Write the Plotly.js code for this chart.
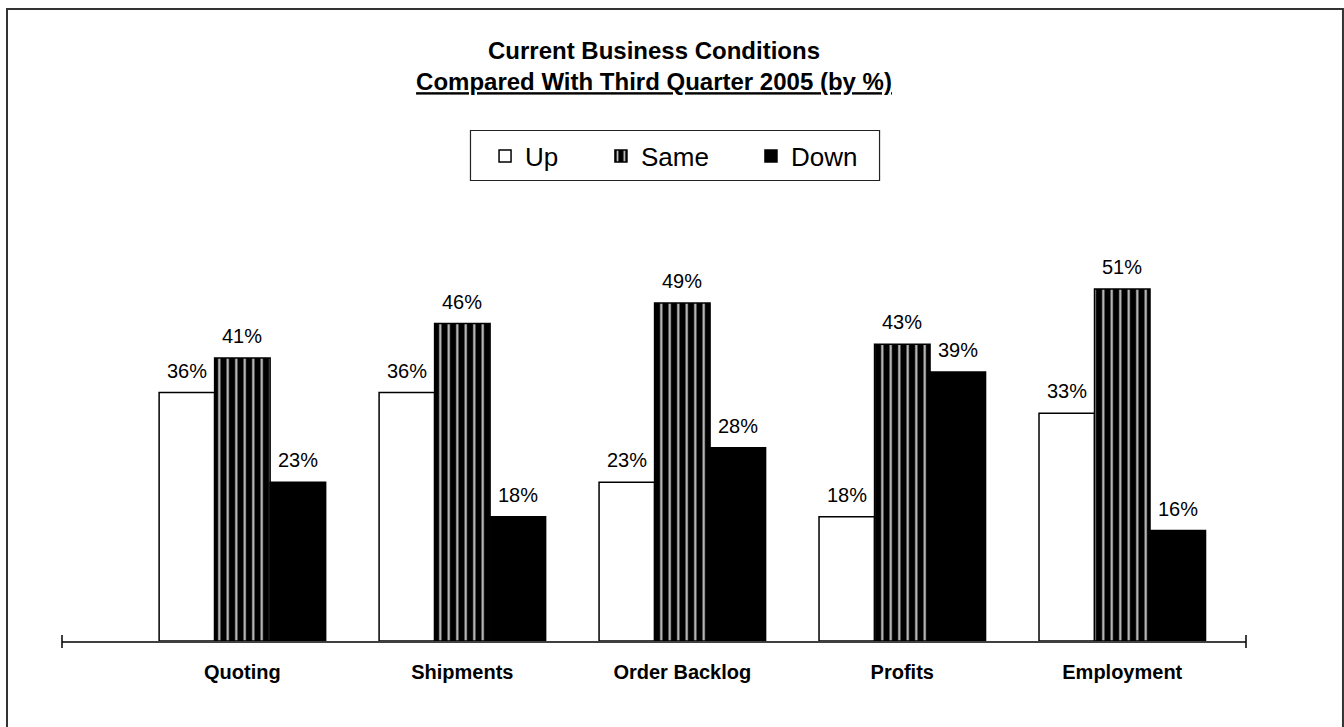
<!DOCTYPE html>
<html>
<head>
<meta charset="utf-8">
<script src="https://cdn.plot.ly/plotly-3.0.1.min.js"></script>
<style>
  html, body { margin: 0; padding: 0; background: #fff; }
  #chart { width: 1344px; height: 727px; }
</style>
</head>
<body>
<div id="chart"></div>
<script>
const categories = ['Quoting', 'Shipments', 'Order Backlog', 'Profits', 'Employment'];
const seriesNames = ['Up', 'Same', 'Down'];
const upValues = [36, 36, 23, 18, 33];
const sameValues = [41, 46, 49, 43, 51];
const downValues = [23, 18, 28, 39, 16];
const allValues = [upValues, sameValues, downValues];

const FONT = 'Liberation Sans, Arial, Helvetica, sans-serif';
const bargap = 0.243;
const barW = (1 - bargap) / 3;

const markers = [
  { color: '#ffffff', line: { color: '#000000', width: 1.5 } },
  { color: '#000000', line: { color: '#000000', width: 1.5 },
    pattern: { shape: '|', fgcolor: '#c8c8c8', bgcolor: '#000000', size: 8.5, solidity: 0.25, fillmode: 'replace' } },
  { color: '#000000', line: { color: '#000000', width: 1.5 } }
];

const legendIds = ['legend', 'legend2', 'legend3'];
const traces = seriesNames.map((name, i) => ({
  type: 'bar',
  name: name,
  x: categories,
  y: allValues[i],
  marker: markers[i],
  legend: legendIds[i],
  showlegend: true,
  hoverinfo: 'x+y+name'
}));

const annotations = [];
allValues.forEach((vals, i) => {
  vals.forEach((v, j) => {
    annotations.push({
      xref: 'x', yref: 'y',
      x: j + (i - 1) * barW,
      y: v,
      text: v + '%',
      showarrow: false,
      xanchor: 'center', yanchor: 'bottom',
      yshift: 9,
      font: { family: FONT, size: 20, color: '#000' }
    });
  });
});

const legendBase = { orientation: 'h', xref: 'paper', yref: 'paper', xanchor: 'left', yanchor: 'middle',
  y: 1.1715, bgcolor: 'rgba(0,0,0,0)', borderwidth: 0, visible: true,
  font: { family: FONT, size: 26, color: '#000' } };

const layout = {
  width: 1344, height: 727,
  showlegend: true,
  margin: { l: 62, r: 98, t: 227, b: 86 },
  paper_bgcolor: '#ffffff', plot_bgcolor: '#ffffff',
  barmode: 'group', bargap: bargap, bargroupgap: 0,
  title: {
    text: '<b>Current Business Conditions</b><br><b><u>Compared With Third Quarter 2005 (by %)</u></b>',
    font: { family: FONT, size: 24, color: '#000' },
    xref: 'paper', x: 0.5, xanchor: 'center',
    yref: 'container', y: 1 - 59 / 727, yanchor: 'top'
  },
  xaxis: {
    type: 'category',
    range: [-0.82, 4.5625],
    showgrid: false, zeroline: false,
    showline: true, linecolor: '#404040', linewidth: 1.5,
    ticks: '', ticklabelstandoff: 12,
    tickfont: { family: FONT, size: 20, color: '#000', weight: 'bold' },
    fixedrange: true
  },
  yaxis: {
    range: [0, 60],
    showgrid: false, zeroline: false, showline: false,
    showticklabels: false, ticks: '', fixedrange: true
  },
  legend: Object.assign({}, legendBase, { x: 0.3573 }),
  legend2: Object.assign({}, legendBase, { x: 0.4552 }),
  legend3: Object.assign({}, legendBase, { x: 0.5819 }),
  annotations: annotations,
  shapes: [
    { type: 'rect', xref: 'paper', yref: 'paper', x0: -0.04645, x1: 1.0819, y0: -0.215, y1: 1.5266,
      line: { color: '#333333', width: 2 }, fillcolor: 'rgba(0,0,0,0)', layer: 'below' },
    { type: 'rect', xref: 'paper', yref: 'paper', x0: 0.345, x1: 0.6905, y0: 1.1123, y1: 1.2331,
      line: { color: '#222222', width: 1.2 }, fillcolor: 'rgba(0,0,0,0)', layer: 'below' },
    { type: 'line', xref: 'paper', yref: 'paper', x0: 0, x1: 0, y0: -0.0169, y1: 0.0145,
      line: { color: '#000000', width: 1.5 } },
    { type: 'line', xref: 'paper', yref: 'paper', x0: 1, x1: 1, y0: -0.0169, y1: 0.0145,
      line: { color: '#000000', width: 1.5 } }
  ]
};

Plotly.newPlot('chart', traces, layout, { displayModeBar: false, staticPlot: true });
</script>
</body>
</html>
